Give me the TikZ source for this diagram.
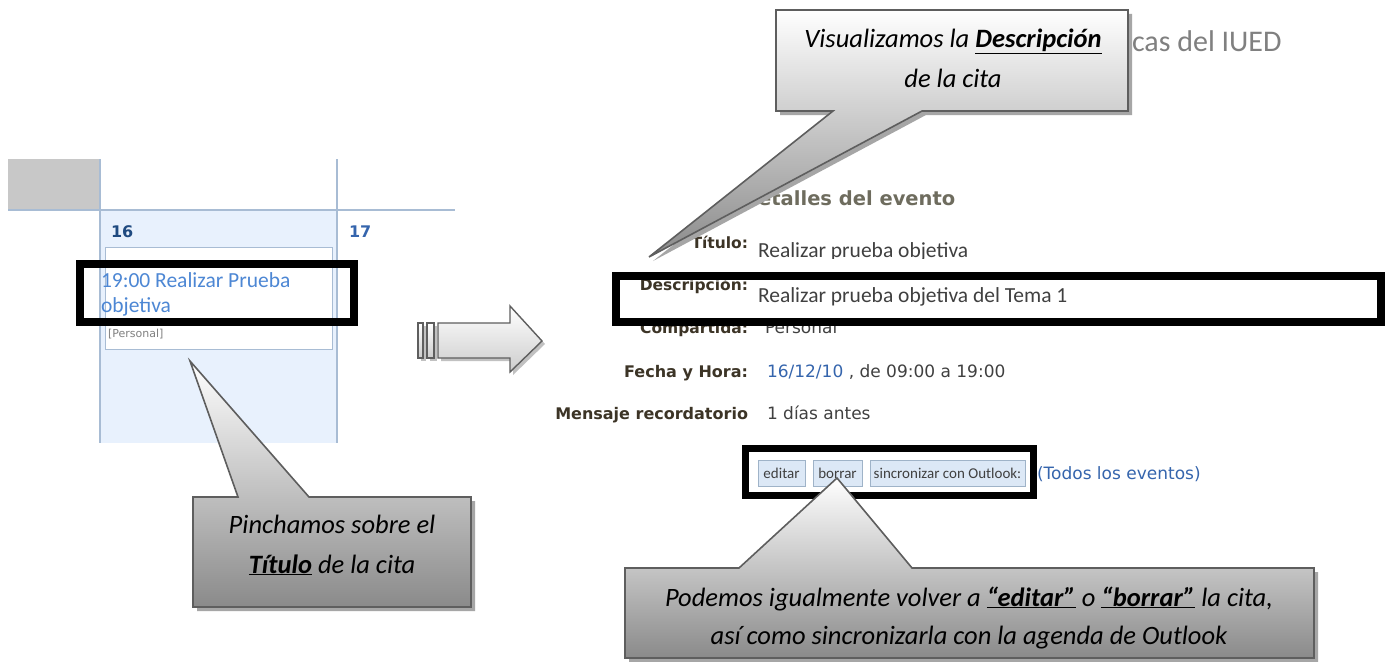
\documentclass[tikz,border=0pt]{standalone}
\usepackage{fontspec}
\setmainfont{Carlito}
\newfontfamily\dvs{DejaVu Sans}
\newcommand\myfs[1]{\fontsize{#1}{#1}\selectfont}
\definecolor{gridc}{HTML}{A8BCD4}
\definecolor{cellc}{HTML}{E8F1FD}
\definecolor{greyc}{HTML}{C8C8C8}
\definecolor{linkc}{HTML}{4D87D4}
\definecolor{daynum}{HTML}{1F4A80}
\definecolor{labc}{HTML}{3C3426}
\definecolor{headc}{HTML}{6E6C5E}
\definecolor{valc}{HTML}{404040}
\definecolor{datec}{HTML}{3565AD}
\definecolor{btnf}{HTML}{DCE8F6}
\definecolor{btnd}{HTML}{9FB3C8}
\definecolor{cbord}{HTML}{5E5E5E}
\definecolor{shad}{HTML}{A6A6A6}
\definecolor{hdrc}{HTML}{808080}
\definecolor{cdark}{HTML}{8A8A8A}
\definecolor{cmid}{HTML}{D6D6D6}
\begin{document}
\begin{tikzpicture}[x=1pt,y=-1pt,
  txt/.style={inner sep=0pt, outer sep=0pt},
  lbl/.style={txt, anchor=base east, text=labc, font=\dvs\bfseries\myfs{15.5}},
  lblb/.style={txt, anchor=base east, text=labc, font=\dvs\bfseries\myfs{16}},
  valtop/.style={txt, anchor=base west, text=valc, font=\myfs{21.5}},
  valbot/.style={txt, anchor=base west, text=valc, font=\dvs\myfs{17}},
  frame/.style={draw=black, line width=8pt},
  callout/.style={draw=cbord, line width=1.6pt, line join=miter,
    top color=white, middle color=cmid, bottom color=cdark},
  cshadow/.style={fill=shad},
  ctext/.style={txt, anchor=base, font=\itshape\myfs{26.5}, text=black},
  btn/.style={draw=btnd, fill=btnf, line width=0.8pt, inner sep=0pt,
    minimum height=26pt, font=\myfs{15}, text=valc},
]
\useasboundingbox (0,0) rectangle (1391,661);
\fill[white] (0,0) rectangle (1391,661);

% ---------------- calendar fragment ----------------
\fill[greyc] (8,159) rectangle (100,210);
\fill[cellc] (100,210) rectangle (337,443);
\draw[gridc, line width=1.5pt] (8,210) -- (455,210);
\draw[gridc, line width=1.5pt] (100,159) -- (100,443);
\draw[gridc, line width=1.5pt] (337,159) -- (337,443);
\node[txt, anchor=base west, font=\dvs\bfseries\myfs{16}, text=daynum] (d16) at (111,237) {16};
\node[txt, anchor=base west, font=\dvs\bfseries\myfs{16}, text=datec] (d17) at (349,237) {17};
\draw[gridc, fill=white, line width=1pt] (105,247) rectangle (332,349);
\node[txt, anchor=base west, font=\myfs{21.5}, text=linkc] (ev1) at (101,287) {19:00 Realizar Prueba};
\node[txt, anchor=base west, font=\myfs{21.5}, text=linkc] (ev2) at (101,312) {objetiva};
\node[txt, anchor=base west, font=\dvs\myfs{11}, text=gray] (evp) at (108,337) {[Personal]};
\draw[frame] (80,264) rectangle (354,322);

% ---------------- block arrow ----------------
\begin{scope}[shift={(3,3)}]
  \fill[shad!70] (418,323) rectangle (423,358);
  \fill[shad!70] (427,323) rectangle (434,358);
  \fill[shad!70] (438,323) -- (510,323) -- (510,306) -- (542,341) -- (510,372) -- (510,358) -- (438,358) -- cycle;
\end{scope}
\draw[cbord, line width=1.4pt, top color=white, bottom color=white!60!gray] (418,323) rectangle (423,358);
\draw[cbord, line width=1.4pt, top color=white, bottom color=white!60!gray] (427,323) rectangle (434,358);
\draw[cbord, line width=1.4pt, line join=miter, top color=white, bottom color=white!60!gray]
  (438,323) -- (510,323) -- (510,306) -- (542,341) -- (510,372) -- (510,358) -- (438,358) -- cycle;

% ---------------- event details ----------------
\node[txt, anchor=base west, font=\myfs{30}, text=hdrc] (hdr) at (1132,52) {cas del IUED};
\node[txt, anchor=base west, font=\dvs\bfseries\myfs{19.5}, text=headc] (head) at (742,205) {Detalles del evento};

\node[lbl] (lt) at (748,248) {Título:};
\begin{scope}
  \clip (752,230) rectangle (1000,258.5);
  \node[valtop] (vt) at (758,257) {Realizar prueba objetiva};
\end{scope}
\node[lbl] (ld) at (748,290) {Descripción:};
\node[valtop] (vd) at (758,302) {Realizar prueba objetiva del Tema 1};
\node[lbl] (lc) at (748,333) {Compartida:};
\node[valbot, text=valc] (vc) at (765,333) {Personal};
\draw[frame] (616,276) rectangle (1381,322);

\node[lblb] (lf) at (748,377) {Fecha y Hora:};
\node[valbot] (vf) at (767,377) {\textcolor{datec}{16/12/10} , de 09:00 a 19:00};
\node[lblb] (lm) at (748,419) {Mensaje recordatorio};
\node[valbot] (vm) at (767,419) {1 días antes};

\node[btn, minimum width=47pt] (bedit) at (781.5,473) {editar};
\node[btn, minimum width=49pt] (bdel) at (837.5,473) {borrar};
\node[btn, minimum width=155pt] (bsync) at (947.5,473) {sincronizar con Outlook:};
\draw[frame, line width=7pt] (745.5,448.5) rectangle (1033.5,495.5);
\node[txt, anchor=base west, font=\dvs\myfs{17}, text=datec] (todos) at (1037,479) {(Todos los eventos)};

% ---------------- callouts ----------------
% left callout
\fill[cshadow, shift={(4,4)}] (193,497) -- (238,497) -- (190,361) -- (309,497) -- (471,497) -- (471,607) -- (193,607) -- cycle;
\draw[callout]
  (193,497) -- (238,497) -- (190,361) -- (309,497) -- (471,497) -- (471,607) -- (193,607) -- cycle;
\node[ctext] (c1a) at (332,533) {Pinchamos sobre el};
\node[ctext] (c1b) at (332,573) {\underline{\textbf{Título}} de la cita};

% top callout
\fill[cshadow, shift={(4,4)}] (776,10) -- (1128,10) -- (1128,111) -- (922,111) -- (649,257) -- (833,111) -- (776,111) -- cycle;
\draw[callout]
  (776,10) -- (1128,10) -- (1128,111) -- (922,111) -- (649,257) -- (833,111) -- (776,111) -- cycle;
\node[ctext] (c2a) at (953,48) {Visualizamos la \underline{\textbf{Descripción}}};
\node[ctext] (c2b) at (953,88) {de la cita};

% bottom callout
\fill[cshadow, shift={(4,4)}] (625,568) -- (739,568) -- (837,478) -- (912,568) -- (1314,568) -- (1314,658) -- (625,658) -- cycle;
\draw[callout]
  (625,568) -- (739,568) -- (837,478) -- (912,568) -- (1314,568) -- (1314,658) -- (625,658) -- cycle;
\node[ctext] (c3a) at (969,606) {Podemos igualmente volver a \underline{\textbf{“editar”}} o \underline{\textbf{“borrar”}} la cita,};
\node[ctext] (c3b) at (969,644) {así como sincronizarla con la agenda de Outlook};
\end{tikzpicture}
\end{document}
